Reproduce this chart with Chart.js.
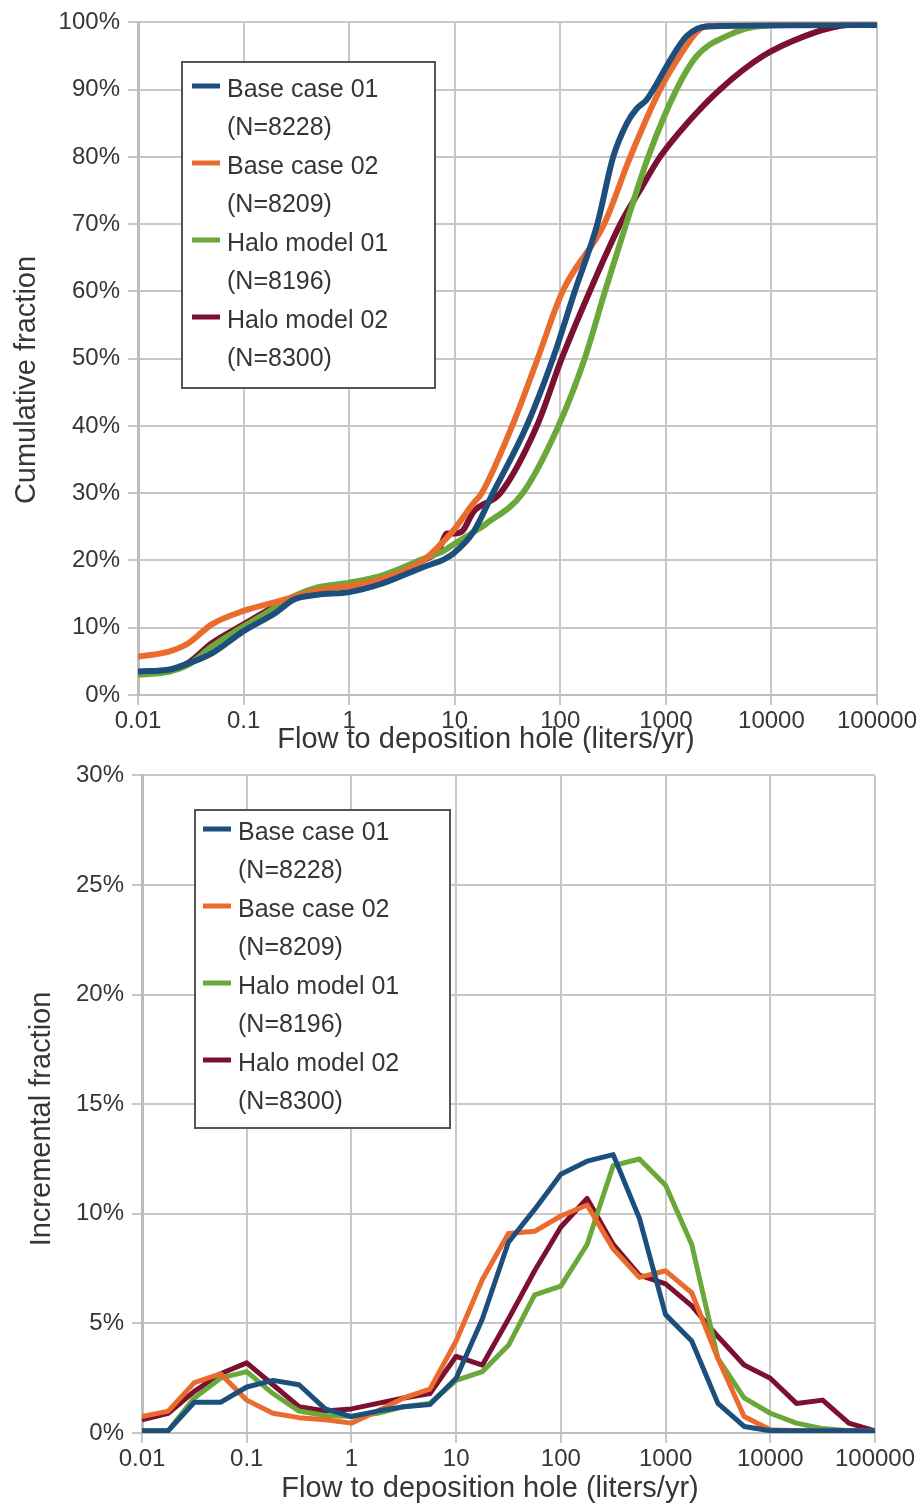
<!DOCTYPE html>
<html>
<head>
<meta charset="utf-8">
<script src="https://cdn.jsdelivr.net/npm/chart.js@4.4.1/dist/chart.umd.min.js"></script>
<style>
  html, body { margin: 0; padding: 0; background: #fff; }
  #wrap { position: relative; width: 924px; height: 1506px; }
  .box { position: absolute; left: 0; width: 924px; height: 753px; }
</style>
</head>
<body>
<div id="wrap">
  <div class="box" style="top:0"><canvas id="cumChart"></canvas></div>
  <div class="box" style="top:753px"><canvas id="incChart"></canvas></div>
</div>
<script>
const seriesNames = ["Base case 01", "Base case 02", "Halo model 01", "Halo model 02"];
const sampleSizes = [8228, 8209, 8196, 8300];
const seriesColors = ["#1d4f7c", "#ea6b2e", "#6aa83b", "#7b1030"];

const xTickValues = [0.01, 0.1, 1, 10, 100, 1000, 10000, 100000];

// cumulative curves (flow in liters/yr, fraction in %)
const cumBase01X = [0.01, 0.02, 0.03, 0.05, 0.1, 0.2, 0.3, 0.5, 1, 2, 5, 8, 10, 15, 23, 48, 85, 137, 224, 317, 427, 531, 650, 760, 1160, 1580, 2450, 100000];
const cumBase01Y = [3.5, 3.8, 4.7, 6.2, 9.5, 12.2, 14.2, 14.9, 15.3, 16.5, 19.0, 20.2, 21.2, 24.2, 30, 40, 50, 60, 70, 80, 85, 87.2, 88.4, 90, 95, 98, 99.4, 99.6];
const cumBase02X = [0.01, 0.02, 0.03, 0.05, 0.1, 0.2, 0.3, 0.5, 1, 2, 5, 8, 10, 15, 18, 35, 61, 105, 260, 460, 880, 1350, 2100, 2800, 100000];
const cumBase02Y = [5.7, 6.5, 7.7, 10.5, 12.5, 13.8, 14.6, 15.6, 16.2, 17.2, 20.0, 23.0, 24.7, 28.5, 30, 40, 50, 60, 70, 80, 90, 95, 99, 99.5, 99.7];
const cumHalo01X = [0.01, 0.02, 0.03, 0.05, 0.1, 0.2, 0.3, 0.5, 1, 2, 5, 8, 10, 15, 20, 44, 96, 170, 265, 420, 680, 1260, 1960, 3800, 8300, 100000];
const cumHalo01Y = [3.0, 3.5, 4.5, 7.2, 10.2, 13.0, 14.7, 16.0, 16.7, 17.7, 20.2, 21.5, 22.5, 24.2, 25.5, 30, 40, 50, 60, 70, 80, 90, 95, 98, 99.5, 99.8];
const cumHalo02X = [0.01, 0.02, 0.03, 0.05, 0.1, 0.2, 0.3, 0.5, 1, 2, 5, 7, 8.5, 10, 12, 15, 27, 60, 103, 190, 370, 566, 880, 1590, 3240, 8300, 21000, 45000, 100000];
const cumHalo02Y = [3.3, 3.7, 4.8, 7.7, 10.5, 13.2, 14.5, 15.8, 16.2, 17.3, 20.0, 21.5, 24.0, 24.0, 24.5, 27.2, 30, 40, 50, 60, 70, 75, 80, 85, 90, 95, 98, 99.5, 99.9];

// incremental fractions per quarter-decade bin
const incFlows = [0.01, 0.0178, 0.0316, 0.0562, 0.1, 0.178, 0.316, 0.562, 1, 1.78, 3.16, 5.62, 10, 17.8, 31.6, 56.2, 100, 178, 316, 562, 1000, 1778, 3162, 5623, 10000, 17783, 31623, 56234, 100000];
const incBase01 = [0.1, 0.1, 1.4, 1.4, 2.1, 2.4, 2.2, 1.1, 0.75, 1.0, 1.2, 1.3, 2.5, 5.2, 8.7, 10.2, 11.8, 12.4, 12.7, 9.8, 5.4, 4.2, 1.35, 0.3, 0.1, 0.1, 0.1, 0.1, 0.1];
const incBase02 = [0.75, 1.0, 2.3, 2.7, 1.5, 0.9, 0.7, 0.6, 0.45, 1.0, 1.6, 2.0, 4.2, 7.0, 9.1, 9.2, 9.9, 10.4, 8.4, 7.1, 7.4, 6.4, 3.4, 0.75, 0.15, 0.1, 0.1, 0.1, 0.1];
const incHalo01 = [0.1, 0.1, 1.6, 2.5, 2.8, 1.8, 1.0, 0.8, 0.75, 0.9, 1.2, 1.35, 2.4, 2.8, 4.0, 6.3, 6.7, 8.6, 12.2, 12.5, 11.3, 8.6, 3.4, 1.6, 0.9, 0.45, 0.2, 0.1, 0.1];
const incHalo02 = [0.6, 0.9, 1.9, 2.7, 3.2, 2.2, 1.2, 1.0, 1.1, 1.35, 1.6, 1.8, 3.5, 3.1, 5.2, 7.4, 9.4, 10.7, 8.6, 7.2, 6.8, 5.8, 4.4, 3.1, 2.5, 1.35, 1.5, 0.45, 0.1];

const FONT = "'Liberation Sans', Arial, sans-serif";
const TEXT = "#363636";

function pairs(xs, ys) {
  return xs.map((x, i) => ({ x: x, y: ys[i] }));
}

// boxed two-line legend plus axis titles, drawn over the chart
function decorations(cfg) {
  return {
    id: "decorations",
    afterDraw(chart) {
      const ctx = chart.ctx;
      const b = cfg.legend;
      ctx.save();
      ctx.fillStyle = "#fff";
      ctx.fillRect(b.x, b.y, b.w, b.h);
      ctx.strokeStyle = "#555";
      ctx.lineWidth = 2;
      ctx.strokeRect(b.x, b.y, b.w, b.h);
      ctx.font = "25px " + FONT;
      ctx.textBaseline = "middle";
      chart.data.datasets.forEach((ds, i) => {
        const y0 = b.y + b.first + i * b.step;
        ctx.strokeStyle = ds.borderColor;
        ctx.lineWidth = 5;
        ctx.beginPath();
        ctx.moveTo(b.x + b.swatch, y0 - 4);
        ctx.lineTo(b.x + b.swatch + 28, y0 - 4);
        ctx.stroke();
        ctx.fillStyle = TEXT;
        ctx.fillText(ds.label, b.x + b.text, y0);
        ctx.fillText("(N=" + sampleSizes[i] + ")", b.x + b.text, y0 + b.step / 2);
      });

      ctx.font = "29px " + FONT;
      ctx.fillStyle = TEXT;
      ctx.textAlign = "center";
      ctx.textBaseline = "alphabetic";
      ctx.fillText("Flow to deposition hole (liters/yr)", cfg.xTitle.x, cfg.xTitle.y);
      ctx.translate(cfg.yTitle.x, cfg.yTitle.y);
      ctx.rotate(-Math.PI / 2);
      ctx.fillText(cfg.yTitle.text, 0, 0);
      ctx.restore();
    },
  };
}

function makeScales(yMax, yStep, yWidth, xHeight) {
  return {
    x: {
      type: "logarithmic",
      min: 0.01,
      max: 100000,
      afterBuildTicks: (scale) => {
        scale.ticks = xTickValues.map((v) => ({ value: v }));
      },
      afterFit: (scale) => {
        scale.height = xHeight;
      },
      ticks: {
        autoSkip: false,
        maxRotation: 0,
        padding: 2,
        color: TEXT,
        font: { family: FONT, size: 24 },
        callback: (v) => String(v),
      },
      grid: { color: "#c8c8c8", lineWidth: 2, tickLength: 10 },
      border: { color: "#bdbdbd", width: 2 },
    },
    y: {
      min: 0,
      max: yMax,
      afterFit: (scale) => {
        scale.width = yWidth;
      },
      ticks: {
        stepSize: yStep,
        padding: 8,
        color: TEXT,
        font: { family: FONT, size: 24 },
        callback: (v) => v + "%",
      },
      grid: { color: "#c8c8c8", lineWidth: 2, tickLength: 10 },
      border: { color: "#bdbdbd", width: 3 },
    },
  };
}

const cumSets = [
  pairs(cumBase01X, cumBase01Y),
  pairs(cumBase02X, cumBase02Y),
  pairs(cumHalo01X, cumHalo01Y),
  pairs(cumHalo02X, cumHalo02Y),
];
const incSets = [incBase01, incBase02, incHalo01, incHalo02].map((v) => pairs(incFlows, v));

new Chart(document.getElementById("cumChart"), {
  type: "line",
  data: {
    datasets: cumSets.map((d, i) => ({
      label: seriesNames[i],
      data: d,
      borderColor: seriesColors[i],
      backgroundColor: seriesColors[i],
      borderWidth: 6,
      pointRadius: 0,
      cubicInterpolationMode: "monotone",
      fill: false,
    })),
  },
  options: {
    responsive: true,
    maintainAspectRatio: false,
    animation: false,
    devicePixelRatio: 1,
    layout: { padding: { top: 20, right: 47, left: 0, bottom: 0 } },
    plugins: { legend: { display: false }, tooltip: { enabled: false } },
    scales: makeScales(100, 10, 138, 58),
  },
  plugins: [
    decorations({
      legend: { x: 182, y: 62, w: 253, h: 326, first: 28, step: 77, swatch: 10, text: 45 },
      xTitle: { x: 486, y: 748 },
      yTitle: { x: 35, y: 380, text: "Cumulative fraction" },
    }),
  ],
});

new Chart(document.getElementById("incChart"), {
  type: "line",
  data: {
    datasets: incSets.map((d, i) => ({
      label: seriesNames[i],
      data: d,
      borderColor: seriesColors[i],
      backgroundColor: seriesColors[i],
      borderWidth: 5,
      borderJoinStyle: "round",
      pointRadius: 0,
      tension: 0,
      fill: false,
    })),
  },
  options: {
    responsive: true,
    maintainAspectRatio: false,
    animation: false,
    devicePixelRatio: 1,
    layout: { padding: { top: 15, right: 49, left: 0, bottom: 0 } },
    plugins: { legend: { display: false }, tooltip: { enabled: false } },
    scales: makeScales(30, 5, 142, 73),
  },
  plugins: [
    decorations({
      legend: { x: 195, y: 57, w: 255, h: 318, first: 23, step: 77, swatch: 8, text: 43 },
      xTitle: { x: 490, y: 744 },
      yTitle: { x: 50, y: 366, text: "Incremental fraction" },
    }),
  ],
});
</script>
</body>
</html>
